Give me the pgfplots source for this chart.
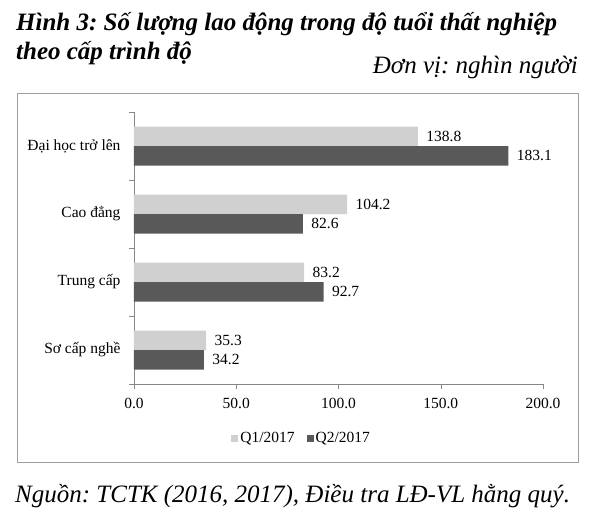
\documentclass[border=0pt]{standalone}
\usepackage{pgfplots}
\pgfplotsset{compat=1.18}
\usepackage{fontspec}
\setmainfont{Liberation Serif}
\definecolor{qone}{HTML}{D0D0D0}
\definecolor{qtwo}{HTML}{595959}
\definecolor{axgray}{HTML}{878787}
\begin{document}
\frenchspacing
\begin{tikzpicture}
% page frame (595 x 515)
\path (-134pt,-130pt) rectangle (461pt,385pt);
\draw[axgray!80, line width=0.8pt] (-117pt,-77pt) rectangle (444pt,292pt);
\node[anchor=base west, inner sep=0pt, font=\fontsize{25}{29}\selectfont\bfseries\itshape] at (-118pt,354pt) {Hình 3: Số lượng lao động trong độ tuổi thất nghiệp};
\node[anchor=base west, inner sep=0pt, font=\fontsize{25}{29}\selectfont\bfseries\itshape] at (-118pt,326pt) {theo cấp trình độ};
\node[anchor=base east, inner sep=0pt, font=\fontsize{25}{29}\selectfont\itshape] at (444pt,312pt) {Đơn vị: nghìn người};
\node[anchor=base west, inner sep=0pt, font=\fontsize{25}{29}\selectfont\itshape] at (-119pt,-117pt) {Nguồn: TCTK (2016, 2017), Điều tra LĐ-VL hằng quý.};
\begin{axis}[
    at={(0pt,1pt)}, anchor=south west,
    xbar, bar width=19.5pt,
    scale only axis, width=409pt, height=272pt,
    xmin=0, xmax=200, ymin=-0.5, ymax=3.5,
    axis x line*=bottom, axis y line*=left,
    axis line style={axgray},
    tick align=outside, major tick length=5pt,
    tick style={axgray},
    xtick={0,50,...,200},
    ytick={-0.5,0.5,1.5,2.5,3.5}, yticklabels={},
    extra y ticks={0,1,2,3},
    extra y tick labels={Sơ cấp nghề,Trung cấp,Cao đẳng,Đại học trở lên},
    extra y tick style={major tick length=0pt, yticklabel style={xshift=-10pt}},
    ticklabel style={font=\fontsize{15.5}{18}\selectfont},
    x tick label style={yshift=-6pt, /pgf/number format/.cd, fixed, fixed zerofill, precision=1, assume math mode=true},
    nodes near coords,
    nodes near coords style={font=\fontsize{15.5}{18}\selectfont, xshift=5pt, /pgf/number format/.cd, fixed, fixed zerofill, precision=1, assume math mode=true},
    legend style={at={(0.41,-0.199)}, anchor=center, draw=none, fill=none, font=\fontsize{15.5}{18}\selectfont},
    legend columns=2,
    legend image code/.code={\fill[#1] (0pt,-3.5pt) rectangle (7pt,3.5pt);},
    /tikz/every even column/.append style={column sep=10pt},
]
\addplot[fill=qone, draw=none, bar shift=9.75pt] coordinates {(35.3,0) (83.2,1) (104.2,2) (138.8,3)};
\addplot[fill=qtwo, draw=none, bar shift=-9.75pt] coordinates {(34.2,0) (92.7,1) (82.6,2) (183.1,3)};
\legend{Q1/2017,Q2/2017}
\end{axis}
\end{tikzpicture}
\end{document}
